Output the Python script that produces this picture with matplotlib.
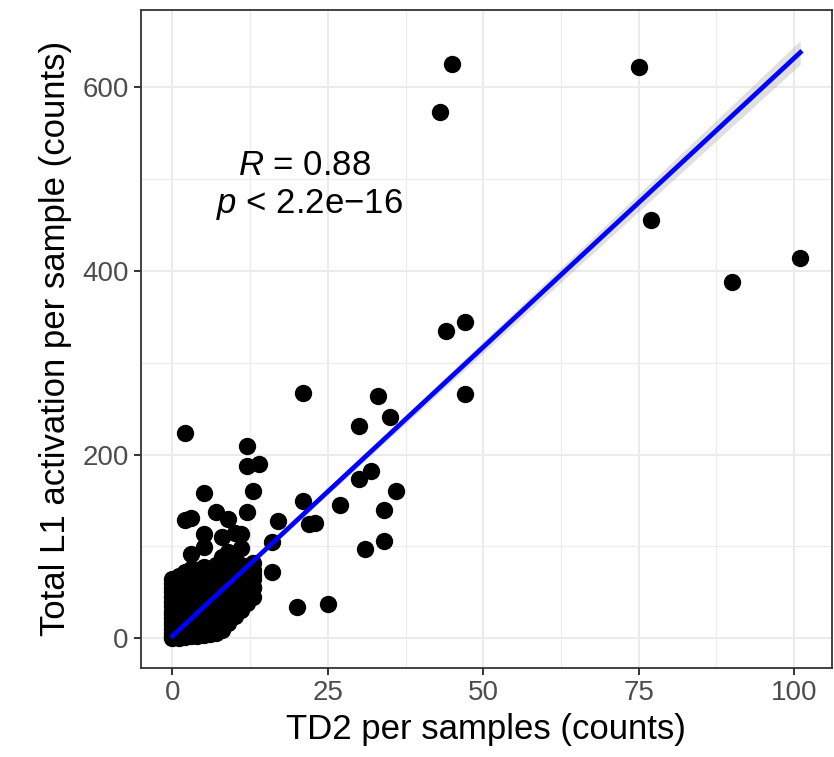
import numpy as np
import matplotlib.pyplot as plt

plt.rcParams["font.family"] = ["Liberation Sans", "DejaVu Sans"]
plt.rcParams["mathtext.fontset"] = "custom"
plt.rcParams["mathtext.rm"] = "Liberation Sans"
plt.rcParams["mathtext.it"] = "Liberation Sans:italic"

# samples with large counts
td2_high = [43, 45, 75, 77, 90, 101, 44, 47, 47, 21, 33, 35, 30, 32, 30, 36, 27, 34,
            21, 22, 23, 17, 16, 34, 31, 16, 20, 25, 2, 12, 12, 14, 13, 5, 12, 7,
            2, 3, 9, 10, 8, 5, 11, 5, 3, 11, 9, 13, 13, 13, 13, 8]
l1_high = [573, 625, 622, 455, 388, 414, 334, 344, 266, 267, 264, 241, 231, 182, 173, 160, 145, 140,
           149, 124, 126, 128, 105, 106, 97, 72, 34, 37, 223, 209, 188, 190, 160, 158, 137, 138,
           129, 131, 130, 115, 110, 114, 114, 99, 92, 98, 94, 82, 74, 56, 69, 9]

# dense cluster near the origin, one row per TD2 count
cluster = {
    0: [0, 3, 6, 10, 14, 18, 22, 26, 30, 35, 40, 45, 50, 55, 60, 64],
    1: [0, 4, 8, 12, 16, 20, 25, 30, 35, 40, 46, 52, 58, 64, 68],
    2: [1, 5, 10, 15, 20, 26, 32, 38, 45, 52, 60, 66, 72],
    3: [2, 7, 12, 18, 24, 30, 37, 44, 52, 60, 68, 75],
    4: [3, 8, 14, 20, 27, 34, 42, 50, 58, 66, 74],
    5: [4, 10, 17, 25, 33, 42, 50, 60, 68, 78],
    6: [5, 12, 20, 28, 36, 45, 55, 65, 75],
    7: [6, 14, 22, 31, 40, 50, 60, 70, 80],
    8: [10, 18, 27, 36, 46, 56, 66, 76, 88],
    9: [17, 26, 35, 45, 55, 65, 76],
    10: [24, 33, 42, 52, 62, 72, 84],
    11: [31, 40, 50, 60, 70, 80],
    12: [38, 48, 58, 68],
    13: [45, 55, 65],
}

# linear fit as drawn in the figure
fit_intercept = 2.5
fit_slope = 6.29
band_min = 1.5      # half-width of the 95% band at its narrowest
band_max = 13.0     # half-width at the right end
band_centre = 3.0   # mean TD2 count

x = np.array(td2_high + [k for k, v in cluster.items() for _ in v], dtype=float)
y = np.array(l1_high + [yy for v in cluster.values() for yy in v], dtype=float)

xs = np.linspace(x.min(), x.max(), 200)
fit = fit_intercept + fit_slope * xs
k = np.sqrt(band_max ** 2 - band_min ** 2) / (x.max() - band_centre)
hw = np.sqrt(band_min ** 2 + (k * (xs - band_centre)) ** 2)

fig = plt.figure(figsize=(8.34, 7.57), dpi=100)
ax = fig.add_axes([0.1691, 0.1180, 0.8281, 0.8688])

ax.scatter(x, y, s=156, color="black", linewidths=0, zorder=3)
ax.fill_between(xs, fit - hw, fit + hw, color="#999999", alpha=0.3, linewidth=0, zorder=4)
ax.plot(xs, fit, color="blue", linewidth=3.4, zorder=5)

ax.text(21.3, 515, "$R$ = 0.88", fontsize=25, ha="center", va="center", zorder=6)
ax.text(22.1, 472, "$p$ < 2.2e\u221216", fontsize=25, ha="center", va="center", zorder=6)

ax.set_xlim(-5.05, 106.05)
ax.set_ylim(-32, 684)
ax.set_xticks([0, 25, 50, 75, 100])
ax.set_yticks([0, 200, 400, 600])
ax.set_xticks([12.5, 37.5, 62.5, 87.5], minor=True)
ax.set_yticks([100, 300, 500], minor=True)
ax.grid(which="major", color="#EBEBEB", linewidth=1.4, zorder=0)
ax.grid(which="minor", color="#EBEBEB", linewidth=0.8, zorder=0)
ax.set_axisbelow(True)
ax.tick_params(which="major", length=5, width=1.4, color="#333333",
               labelsize=20, labelcolor="#4D4D4D", pad=4)
ax.tick_params(which="minor", length=0)
for sp in ax.spines.values():
    sp.set_color("#333333")
    sp.set_linewidth(1.3)

ax.set_xlabel("TD2 per samples (counts)", fontsize=25, labelpad=5)
ax.set_ylabel("Total L1 activation per sample (counts)", fontsize=25, labelpad=7)

fig.savefig("out.png", dpi=100)
